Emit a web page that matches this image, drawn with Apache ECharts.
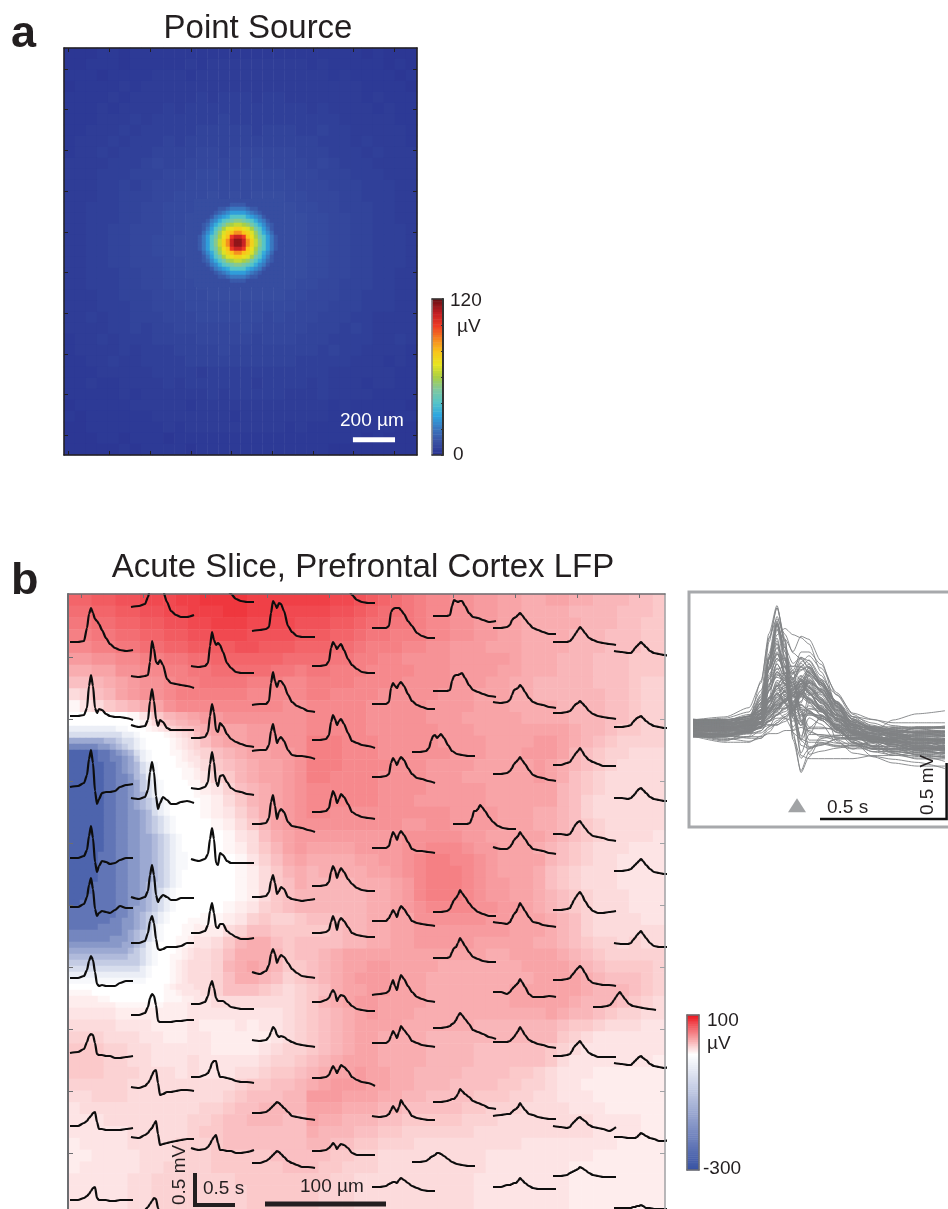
<!DOCTYPE html>
<html><head><meta charset="utf-8"><style>html,body{margin:0;padding:0;background:#fff}#c{width:948px;height:1209px}</style>
<script src="https://cdn.jsdelivr.net/npm/echarts@6/dist/echarts.min.js"></script></head>
<body><div id="c"></div>
<script>
// ---------- Panel a : background field, digit = µV ----------
const pointBackground = [
"11122122222222222222222222212111","11222122222323333333332322222121","22212222333233333333333323222212","12222323333333333333333333322221",
"22223233333343444344333333323222","22232333343444444444443433332322","22233343444444544444444443333322","22333434444455555455544544333332",
"23334344454555555555555444343332","23343444555566566666655544434333","33334445655666666766665654443333","33344455566677677777666555444333",
"33344545666777777777766655544433","33344555667778787888776665544433","33444556677788888888877665554433","33444556677888888888887766554433",
"33445566677888888888887766554443","33445566778888888888887766554443","33445566778888888888887766554443","33445566677888888888887766554443",
"33444556677888888888887766554433","33444556677788888888877665554433","33344555667778888888776665544433","33344455666777777777766655544433",
"33434455566677777767666555443333","33334454556666667666665554543333","23343444555566666566655544443343","23333434445555655555555454433332",
"22334334444555555555544444333232","22233333444434444444444433333322","22322333343444444344443433323322","22222323333334344444333433332222",
"12222233333233333333333323222221","21222222333333323333333322222122","11222222232333333333232222222211","11122122212222222222222222212111",
"11111212222122222222222211111111"];
// central spot, one character = 4 µV steps (0-9a-u)
const pointCore = [
"2222222222222222222222","2222222223333222222222","2222223345555433222222","2222234567777654322222",
"222235678aaaa876532222","2223568abcddcba8653222","223468acefggfeca864322","22357acfhijjihfca75322",
"22468behjkmmkjheb86422","2357acfikprrpkifca7532","2357adgjmrttrmjgda7532","2357adgjmrttrmjgda7532",
"2357acfikprrpkifca7532","22468behjkmmkjheb86422","22357acfhijjihfca75322","223468acefggfeca864322",
"2223568abcddcba8653222","222235678aaaa876532222","2222234567777654322222","2222223345555433222222",
"2222222223333222222222","2222222222222222222222"];
const pointTicksX = [23,223,423,623,823,1023,1223,1423,1623];
const pointTicksY = [103,303,503,703,903,1103,1303,1503,1703,1903];

// ---------- Panel b : LFP field, 0-9a-m = +4 µV steps, A-I = -30 µV steps, '-' = -12 µV ----------
const sliceField = [
"hhiijjkkkl"+"lmmmmlllll"+"llkkjihgfe"+"ddccbbaa99"+"aa99888776",
"gghhiijjkk"+"lllmmlllkk"+"kkjjihggfe"+"ddccbbaa99"+"9988887776",
"ffgghhiijj"+"kklllkkkkj"+"jjiihggffe"+"ddccbbaa99"+"9998887766",
"eeffgghhii"+"jjkkkjjjji"+"iihhgffeee"+"ddccbbaa99"+"9988877766",
"ddeeffgghh"+"iiiijjiiih"+"hhggfeeedd"+"ccbbbaaa99"+"9988877766",
"bbccddeeff"+"gghhhhhhgg"+"ggffeeddcc"+"ccbbbbba99"+"9888777666",
"99aaccddee"+"ffgggggffe"+"ffeeeddddc"+"ccbbbbaa99"+"9888777666",
"7789abccde"+"effffeeedd"+"eeeeddddcc"+"ccbbbaa998"+"8888777655",
"4578abccde"+"eeeeeddddd"+"eeddddcccc"+"cbbbaaa998"+"8888877655",
"1346789acd"+"ddddddddcc"+"dddddccccc"+"bbbbaaa999"+"9888877655",
".....13689"+"abbccccccc"+"dddddccccc"+"bbbaaaaa99"+"9988877655",
"BBBBAA.257"+"89aaabbccc"+"dddddccccc"+"cbbbaaaaaa"+"aa98876655",
"FFEECA.135"+"579aabbbcc"+"eeedddcccc"+"cbbbbaaaab"+"ba98765555",
"IIHHGDA.24"+"45789aabbc"+"eeedddcccc"+"ccbbbaaabb"+"ba87655444",
"IIIIHEB.13"+"346789aabc"+"eeeddddccc"+"bbbbaaaaab"+"a987654444",
"IIIIHFCA.2"+"235689aabc"+"eeddddcccc"+"bbbaaaaaab"+"a976544444",
"IIIIHGDB.1"+"1235789abc"+"ddddddcccc"+"bbbbbaaaaa"+"a876544444",
"IIIIHGEC.."+"1124689abc"+"ddddddcccb"+"bbbbbaaaaa"+"a875444444",
"IIIIHGFDA."+".123579abc"+"ddcccccccc"+"ccbbbbaaa9"+"9875444444",
"IIIIHGFDB."+"..12468abc"+"ccccccccbb"+"ccbbbbaaa9"+"9876544444",
"IIIIHGFEB."+"...13479ab"+"bbbbbbbbcc"+"cccbbaaaaa"+"9876544443",
"IIIIHGFEBA"+"...12468ab"+"aaaabbbbcc"+"dddcbbaaa9"+"8765444333",
"IIIIHGFEBA"+"....13579a"+"9999aabbcd"+"eeddcbaaaa"+"8765443333",
"IIIHHGFECA"+"....124689"+"89999aabcd"+"eeedcbaaa9"+"7654443333",
"IIHHHGFEBA"+"....124679"+"8888999abd"+"eeedcbbaa9"+"7654443333",
"IHHHHGFDBA"+"....124678"+"8888899abd"+"eeedcbbaa9"+"8765444333",
"HHHHHGECA."+"...1235678"+"8888899abc"+"ddddccbba9"+"8765444333",
"HHHGGFDA.."+"1112356556"+"7778899aac"+"cccccbbaaa"+"9875444433",
"GGGGFFDA.."+"2224577666"+"6678899aab"+"bbbbbbbaaa"+"9875444444",
"FFFFFECA.."+"3346899767"+"7778899aab"+"bbbbaaaaa9"+"9876554544",
"DDDDDCA..."+"4457999867"+"789aaaaaaa"+"aaaaa99aaa"+"a987655555",
"BBBBBAA..."+"44589a9866"+"789aabbaaa"+"a9999999aa"+"aa98766665",
"-----....."+"4457998756"+"789abbbaaa"+"999999999a"+"aaa9877765",
"1111......"+"3457776545"+"679aabbaaa"+"9999999aaa"+"aaa9888765",
"2222111122"+"3344444445"+"689abbaaaa"+"9999999aaa"+"aa98887654",
"3333222222"+"3333333345"+"6789abaaa9"+"9999999999"+"a988765544",
"4444333222"+"3222323345"+"6789aaaa99"+"9999888888"+"8766544433",
"5554443322"+"3322222345"+"6789aa9999"+"8888888888"+"8654333333",
"6665544333"+"3322223455"+"6789aa9999"+"8888777777"+"6543333333",
"6665544333"+"4333334556"+"789aaa9999"+"8888777777"+"6433333332",
"6665554443"+"4333445667"+"89aabaa998"+"8887777665"+"4333222222",
"5555544444"+"4444566778"+"9abbbaa998"+"8877776655"+"4332222222",
"4455544444"+"4445677788"+"bbbaaa9988"+"7777666554"+"4333222222",
"3444444444"+"4556778888"+"aaa9998877"+"7776655544"+"4433322222",
"3334444444"+"5567788877"+"a998887766"+"6665554444"+"4444333322",
"3333344444"+"5667777777"+"9888776655"+"5555444444"+"4444333322",
"2333344445"+"5567777777"+"8877665554"+"4444444433"+"3333332222",
"2233334445"+"5566666777"+"7766554444"+"4444433333"+"3333222222",
"2333334455"+"5566666677"+"7665554444"+"4444433333"+"3322222222",
"3333344555"+"5555666666"+"6655444444"+"4444333333"+"3322222222",
"3333344555"+"5555566666"+"6555444444"+"4444333333"+"3322222222",
"3333344555"+"5555566666"+"6555444444"+"4444333333"+"3322222222"];
// finer reading of the negative patch at the left edge
const slicePatch = [
"............1245678899","AAAAAAAA--...123456778","BBBBBBBBBAA-....123457","EEEEEEDDCBBA-....12345",
"GGGGGFFEDCBA-....12345","IIIIIHHGFEDBA-...11234","IIIIIHHGGFECA-....1233","IIIIIIHHGFEDBA-...1123",
"IIIIIIHHGFEDBA-....112","IIIIIIHHGGFDCA-....112","IIIIIIHHGGFECBA-....11","IIIIIIHHGGFECBA-.....1",
"IIIIIIHHGGFEDBA-.....1","IIIIIIHHGGFEDCBA-.....","IIIIIIHHGGFEDCBA-.....","IIIIIIHHGGFFEDBA-.....",
"IIIIIIHHGGFFEDCBA-....","IIIIIIHHGGFFEDCBA-....","IIIIIIHHGGFFEDCBA-....","IIIIIIHHGGFFEEDCBA-...",
"IIIIIIHHGGFFEEDCBA-...","IIIIIIHHGGFFEEDCBA-...","IIIIIHHHGGFFEEDCBA--..","IIIIIHHHGGFFEEDCBA--..",
"IIIIIHHHGGFFEEDCBA--..","IIIIIHHHGGFFEEDCBA-...","IIIIIHHHGGFFEEDCBA-...","IIIIHHHHGGFFEDCCBA-...",
"IIIIHHHHGGFFEDCBA-....","IIIHHHHHGGFFEDCBA-....","IIHHHHHHGGFFEDCBA-....","HHHHHHHHGGFEEDCBA-....",
"HHHHHHHHGGFEDCBA-.....","HHHHHHHGGFFEDCBA-...11","HHHHHGGGGFFEDCA-...112","GGGGGGGGGFEDCBA-...112",
"GGGGGGGFFFEDCBA-..1123","FFFFFFFFFEEDCA-...1123","EEEEEEEEEEDCBA-...1234","DDDDDDDDDDCCBA-..11234",
"CCCCCCCCCCCCBA-..12344","BBBBBBBBBBBBA-...12344","AAAAAAAAAAAAA-...12344","-------------....12344",
"................123334","1111............112333","2222211.........111223"];
const sliceTicksX = [13,75,137,199,261,323,385,447,509,571];
const sliceTicksLeft = [63,125,187,249,311,373,435,497,559];
const sliceTicksRight = [125,187,249,311,373,435,497,559];

// ---------- Traces ----------
const traceTime = [0,8,14,17,19,21,23,25,27,29,32,36,40,45,50,56,63];
const traceStartX = [
2,2,2,2,2,2,2,2,2,
63,63,63,63,63,63,63,63,63,63,
123,123,123,123,123,123,123,123,123,
184,184,184,184,184,184,184,184,184,
244,244,244,244,244,244,244,244,244,
304,304,304,304,304,304,304,304,304,
365,365,344,385,365,365,365,365,344,
425,425,425,425,425,425,425,425,425,
485,485,485,485,485,485,485,485,485,
546,546,546,546,546,525,546,546,546];
const traceStartY = [
48,122,193,264,313,384,459,532,606,
13,82,131,204,303,349,421,493,543,619,
-2,72,144,194,265,339,410,483,554,
37,111,157,230,303,378,446,519,569,
-2,72,146,218,292,339,408,484,557,
34,110,183,254,327,401,449,522,593,
22,97,158,230,318,364,434,508,568,
34,108,180,253,328,398,448,522,593,
48,119,171,240,316,386,462,532,582,
57,133,204,277,349,413,469,543,614];
const traceHeights = [
[0,0,1,14,28,34,29,23,21,18,12,4,-2,-6,-8,-9,-8],
[0,0,1,8,30,41,30,8,3,7,6,2,0,-1,-1,-2,-4],
[0,1,4,12,28,37,24,-4,-17,-12,-6,-5,-5,-4,0,2,3],
[0,0,2,8,22,32,20,-4,-14,-8,-3,-4,-6,-5,-2,0,0],
[0,0,3,10,22,29,18,-2,-9,-6,-4,-5,-6,-3,1,-1,-1],
[0,0,2,8,17,22,18,6,-6,-8,-7,-8,-8,-8,-5,-3,-3],
[0,1,4,11,17,19,18,10,-1,-2,-2,-3,-3,-5,-5,-4,-3],
[0,0,3,5,8,10,13,14,4,-3,-3,-4,-4,-4,-4,-3,-2],
[0,0,2,4,6,9,12,13,2,0,0,0,-1,-1,0,0,0],
[0,1,3,10,18,28,30,28,27,25,16,5,-4,-8,-10,-10,-8],
[0,-1,0,1,14,35,27,14,12,16,11,-3,-7,-8,-9,-10,-12],
[0,-2,-1,5,24,36,24,6,-1,5,3,-3,-5,-5,-5,-5,-5],
[0,-1,1,8,26,36,26,2,-11,-5,1,-2,-6,-6,-4,-3,-5],
[0,-2,0,6,22,32,22,2,-5,-1,2,0,-3,-3,-1,-1,-1],
[0,0,2,10,22,27,20,4,-6,-7,-6,-4,-4,-4,-3,0,0],
[0,0,2,8,17,21,19,10,-6,-7,-7,-7,-7,-6,-6,-5,-5],
[0,-1,1,4,7,12,16,17,4,-8,-7,-5,-5,-4,-3,-3,-4],
[0,-1,2,4,7,9,13,16,3,-8,-7,-6,-5,-4,-3,-2,-2],
[0,0,3,6,9,12,15,14,5,-2,-3,-3,-3,-3,-3,-3,-3],
[0,0,1,4,12,24,25,20,18,14,8,2,-2,-7,-9,-10,-10],
[0,-1,0,3,20,34,26,21,23,21,14,3,-2,-6,-7,-7,-7],
[0,0,1,6,22,34,26,8,6,15,12,4,-1,-4,-6,-8,-9],
[0,-1,1,6,24,36,26,6,2,12,13,6,0,-3,-4,-6,-7],
[0,-2,0,5,20,31,20,-4,-6,6,4,-2,-4,-4,-4,-4,-4],
[0,0,2,8,22,30,20,6,5,9,9,2,-1,-4,-6,-6,-5],
[0,0,2,8,18,23,16,6,3,3,3,0,-3,-4,-5,-5,-5],
[0,0,2,4,8,14,16,16,6,0,0,-1,-2,-4,-5,-5,-6],
[0,-2,-1,1,4,8,11,13,5,-2,-2,-3,-3,-5,-5,-4,-2],
[0,1,2,4,18,30,27,23,28,27,20,5,-1,-5,-6,-6,-6],
[0,1,1,4,22,33,24,18,24,24,20,10,3,-1,-3,-6,-7],
[0,1,1,6,20,27,18,8,12,14,10,1,-4,-5,-5,-6,-8],
[0,0,1,6,22,29,18,5,12,15,12,2,-2,-3,-4,-6,-8],
[0,0,1,5,16,22,14,3,6,10,8,0,-2,-3,-4,-3,-2],
[0,-2,1,7,18,23,18,9,14,17,15,9,3,-1,-4,-5,-6],
[0,-1,0,3,8,13,11,5,3,4,3,0,-2,-4,-5,-6,-7],
[0,0,1,3,5,7,9,11,10,8,5,1,-3,-4,-5,-6,-7],
[0,0,2,4,6,8,10,12,11,9,6,2,0,-2,-4,-4,-5],
[0,0,0,3,14,22,20,18,21,20,14,3,-3,-8,-10,-11,-11],
[0,0,1,5,18,24,21,17,20,22,16,7,1,-3,-6,-7,-7],
[0,0,1,5,18,25,21,15,19,21,16,7,-1,-3,-5,-6,-8],
[0,0,1,4,14,21,17,9,13,18,15,8,0,-3,-5,-6,-7],
[0,0,1,4,14,20,16,8,14,18,14,7,2,-2,-4,-5,-5],
[0,0,1,3,11,17,12,3,12,15,12,6,0,-2,-3,-4,-4],
[0,0,2,4,9,12,9,1,5,7,6,0,-4,-7,-8,-9,-9],
[0,0,1,3,8,12,9,5,9,13,11,7,1,-2,-4,-5,-8],
[0,0,1,3,5,8,6,2,5,7,6,3,-2,-4,-4,-4,-4],
[0,0,0,2,16,19,20,20,20,18,14,7,2,-5,-8,-10,-10],
[0,0,0,2,16,21,18,16,20,22,18,10,3,-1,-3,-5,-5],
[0,0,1,3,14,19,16,12,17,20,17,9,3,-1,-2,-4,-6],
[0,0,0,2,10,16,13,8,14,17,13,6,-1,-3,-3,-4,-5],
[0,0,0,3,7,11,8,4,11,15,12,6,0,-2,-3,-4,-5],
[0,1,2,4,10,15,9,5,14,20,16,9,3,-2,-4,-6,-7],
[0,0,0,2,7,12,9,5,11,17,13,8,2,0,-2,-3,-4],
[0,-1,0,2,6,10,7,4,9,16,11,6,0,-2,-3,-4,-4],
[0,0,1,3,4,5,5,4,7,9,7,4,1,-1,-3,-4,-4],
[0,0,0,1,10,16,15,14,15,15,10,3,-1,-2,-4,-6,-5],
[0,0,0,1,10,15,16,16,17,18,13,6,1,-1,-3,-5,-6],
[0,0,1,4,11,16,17,14,16,18,14,7,1,-2,-3,-4,-4],
[0,0,0,1,6,13,13,15,19,17,13,7,2,-2,-4,-5,-5],
[0,0,1,3,8,12,14,17,22,19,15,9,4,0,-2,-4,-4],
[0,0,0,1,6,10,11,15,20,17,12,6,1,-1,-3,-4,-4],
[0,0,1,2,4,5,8,12,15,13,9,4,-2,-4,-6,-9,-11],
[0,0,1,2,3,3,5,8,13,11,8,5,1,-1,-3,-6,-7],
[0,0,1,3,5,6,7,9,9,8,6,3,0,-2,-3,-4,-4],
[0,0,1,3,8,10,11,13,15,13,9,4,0,-2,-4,-6,-6],
[0,-1,0,2,7,12,13,14,17,15,10,4,0,-2,-3,-5,-6],
[0,0,1,3,6,10,12,14,17,14,10,4,-1,-3,-4,-6,-7],
[0,-2,-2,0,3,7,9,11,15,12,8,2,-2,-3,-4,-6,-7],
[0,-1,-2,0,4,8,10,14,19,16,11,5,0,-1,-3,-4,-5],
[0,0,-2,0,3,5,7,9,13,10,5,-2,-5,-5,-5,-4,-5],
[0,0,0,1,3,5,8,11,15,12,7,2,0,-2,-3,-5,-6],
[0,1,2,2,4,6,7,9,13,10,6,2,1,-1,-2,-3,-3],
[0,0,2,2,3,4,4,6,9,7,4,1,-1,-2,-2,-2,-2],
[0,0,0,1,3,6,9,12,15,13,9,4,2,0,-1,-2,-3],
[0,0,1,2,4,7,9,10,12,10,7,2,-1,-3,-4,-5,-6],
[0,0,2,3,6,9,12,14,17,14,9,5,3,1,-1,-1,-1],
[0,0,-1,0,3,7,10,12,13,10,6,1,-2,-3,-4,-6,-7],
[0,0,1,2,6,10,13,16,18,15,9,3,-1,-3,-3,-2,-1],
[0,0,1,2,5,7,10,12,14,12,7,0,-3,-4,-5,-5,-6],
[0,0,1,2,5,9,11,13,15,12,8,3,1,-1,-1,-1,-1],
[0,-1,-2,-1,2,4,6,8,9,7,5,1,-1,-2,-3,-5,-1],
[0,0,1,3,4,5,6,7,9,8,6,3,1,0,-1,-1,-1],
[0,-1,-2,-2,0,3,5,7,9,7,4,0,-2,-3,-4,-5,-5],
[0,0,1,2,5,7,9,10,11,9,6,3,1,0,-1,-1,-1],
[0,0,-1,0,2,4,7,9,10,8,5,1,-1,-2,-3,-3,-3],
[0,0,1,2,4,6,8,10,12,10,6,2,-1,-2,-3,-3,-3],
[0,-1,-1,0,3,5,8,10,12,9,5,0,-3,-4,-4,-4,-4],
[0,0,1,2,4,7,10,13,15,12,8,3,1,0,-1,-2,-3],
[0,-1,-2,-2,0,2,4,6,7,5,3,-1,-3,-4,-5,-4,-4],
[0,0,-1,-1,-1,-1,0,2,4,3,1,-1,-2,-4,-4,-3,-3],
[0,0,0,0,1,1,2,2,3,2,0,0,-1,-1,-1,-1,-1]];
// baseline of each trace in the overlay of panel b, inset
const insetBaseline = [
1.3,-2.1,2.6,0.2,-0.8,1.9,-2.6,0.9,-0.2,2.2,-1.1,-1.7,2.9,1.1,0.4,-2.9,1.6,-0.5,0.7,
-2.3,-0.1,2.1,-1.3,2.4,-2.8,1.2,0.3,-1.9,1.7,0.6,-0.9,0.1,2.7,-2.2,0.8,-2.5,-0.4,
1.8,-1.4,1.0,-0.3,-2.0,2.5,-0.7,1.5,-2.7,0.0,1.4,-1.6,2.3,0.5,-1.2,2.8,1.1,-1.8,
-0.6,1.9,-2.4,0.9,-1.0,2.6,0.2,-2.1,1.3,2.0,-1.5,-0.2,-2.6,0.7,1.6,-0.8,-1.7,2.4,
0.3,1.2,-1.1,2.2,-2.9,-0.5,1.0,-2.3,2.7,-1.3,0.1,1.8,-1.9,0.6,-0.9,0.4,2.1,-2.8];
const insetMarker = [[26,-25]];

// ---------- Scale bars (axis units) ----------
const sliceBarTime = [[127,579],[127,611],[167,611]];
const sliceBarLength = [[197,610],[318,610]];
const insetBarTime = [[31.75,-29.4],[63.4,-29.4],[63.4,-11.3]];
const pointBar = [[1420,1925],[1627,1925]];

// ---------- Colours ----------
const jetColors = ['#2a3492','#3a53a4','#3a78c0','#2ea6e0','#55c4c8','#7fc8a0','#a9cf45','#e8e520','#f9c41a','#f58420','#ee3a24','#c21f24','#701013'];
const slicePalette = ['#3953a4','#7b8cc2','#bdc6e1','#ffffff','#ed1c24'];

const ink='#231f20', font='"Liberation Sans",Arial,sans-serif';
const grids=[], xAxes=[], yAxes=[], series=[];
const addGrid=c=>{grids.push(Object.assign({outerBoundsMode:'none',containLabel:false},c));return grids.length-1};
const addX=c=>{xAxes.push(c);return xAxes.length-1}, addY=c=>{yAxes.push(c);return yAxes.length-1};
const range=n=>Array.from({length:n},(_,i)=>i);
const hiddenCat=(g,n,inv)=>({type:'category',gridIndex:g,data:range(n),show:false,inverse:!!inv,boundaryGap:true});
const tickAxis=(g,pos,min,max,ticks,color,width,inv,len)=>({type:'value',gridIndex:g,position:pos,min,max,inverse:!!inv,z:10,
  axisLine:{show:true,onZero:false,lineStyle:{color,width}},
  axisTick:{show:!!ticks,inside:true,length:len||4,customValues:ticks||undefined,lineStyle:{color,width:1}},
  axisLabel:{show:false},splitLine:{show:false}});
function decodeRows(rows,f){const d=[];rows.forEach((r,j)=>{for(let i=0;i<r.length;i++)d.push([i,j,f(r[i])])});return d}
const base36=c=>parseInt(c,36);
const sliceDecode=c=>c==='.'?0:c==='-'?-12:(c>='A'&&c<='I')?-30*(c.charCodeAt(0)-64):base36(c)*4;
const heat=(xi,yi,data,z)=>series.push({type:'heatmap',xAxisIndex:xi,yAxisIndex:yi,data,z,progressive:0,silent:true})-1;

// Panel a
const g0=addGrid({left:64,top:48,width:353,height:407});
const aCx=addX(hiddenCat(g0,32)),aCy=addY(hiddenCat(g0,37,true));
const aBx=addX(tickAxis(g0,'bottom',0,1735,pointTicksX,ink,1.5));
addX(tickAxis(g0,'top',0,1735,pointTicksX,ink,1.5));
const aLy=addY(tickAxis(g0,'left',0,2000,pointTicksY,ink,1.5,true));
addY(tickAxis(g0,'right',0,2000,pointTicksY,ink,1.5,true));
const idxA=[heat(aCx,aCy,decodeRows(pointBackground.map(r=>r.padEnd(32,'2')),base36),1)];
const g1=addGrid({left:194,top:199,width:88,height:88});
const coreX=addX(hiddenCat(g1,22)),coreY=addY(hiddenCat(g1,22,true));
idxA.push(heat(coreX,coreY,decodeRows(pointCore,c=>base36(c)*4),2));
series.push({type:'line',xAxisIndex:aBx,yAxisIndex:aLy,data:pointBar,symbol:'none',z:6,silent:true,lineStyle:{color:'#fff',width:5,cap:'butt'}});

// Panel a colour bar
const g2=addGrid({left:432,top:299,width:11,height:156});
const cbAx=addX(hiddenCat(g2,1)),cbAy=addY(hiddenCat(g2,61));
addY({type:'value',gridIndex:g2,position:'right',min:0,max:120,interval:20,z:10,
  axisLine:{show:true,onZero:false,lineStyle:{color:'#333',width:2}},
  axisTick:{show:true,inside:true,length:2,lineStyle:{color:'#333',width:1}},axisLabel:{show:false},splitLine:{show:false}});
addX(tickAxis(g2,'top',0,1,null,'#333',1.5));
addX(tickAxis(g2,'bottom',0,1,null,'#333',1.5));
addY(tickAxis(g2,'left',0,1,null,'#8a8c8e',1.5));
idxA.push(heat(cbAx,cbAy,range(61).map(i=>[0,i,i*2]),1));

// Panel b
const g3=addGrid({left:68,top:594,width:597,height:615});
const bCx=addX(hiddenCat(g3,50)),bCy=addY(hiddenCat(g3,52,true));
const bTx=addX(tickAxis(g3,'top',0,597,sliceTicksX,'#6d6e71',1.5));
const bLy=addY(tickAxis(g3,'left',0,615,sliceTicksLeft,'#6d6e71',2,true,5));
addY(tickAxis(g3,'right',0,615,sliceTicksRight,'#a0a2a5',1.5,true,5));
const idxB=[heat(bCx,bCy,decodeRows(sliceField,sliceDecode),1)];
const g4=addGrid({left:68,top:720,width:132,height:282});
const pX=addX(hiddenCat(g4,22)),pY=addY(hiddenCat(g4,47,true));
idxB.push(heat(pX,pY,decodeRows(slicePatch,sliceDecode),2));
traceHeights.forEach((h,k)=>{
  series.push({type:'line',xAxisIndex:bTx,yAxisIndex:bLy,symbol:'none',silent:true,clip:true,z:5,smooth:0.25,smoothMonotone:'x',
    lineStyle:{color:'#0d0d0d',width:2.2},
    data:h.map((v,i)=>[traceStartX[k]+traceTime[i],traceStartY[k]-v])});
});
const bar=(xi,yi,data,width,color)=>series.push({type:'line',xAxisIndex:xi,yAxisIndex:yi,data,symbol:'none',silent:true,z:7,lineStyle:{color:color||ink,width,cap:'butt',join:'miter'}});
bar(bTx,bLy,sliceBarTime,4);
bar(bTx,bLy,sliceBarLength,5);

// Panel b colour bar
const g5=addGrid({left:687,top:1015,width:12,height:155});
const cbBx=addX(hiddenCat(g5,1)),cbBy=addY(hiddenCat(g5,81));
addY({type:'value',gridIndex:g5,position:'right',min:-300,max:100,z:10,
  axisLine:{show:true,onZero:false,lineStyle:{color:'#6d6e71',width:1.5}},axisTick:{show:false},axisLabel:{show:false},splitLine:{show:false}});
addX(tickAxis(g5,'top',0,1,null,'#6d6e71',1.5));
addX(tickAxis(g5,'bottom',0,1,null,'#6d6e71',1.5));
addY(tickAxis(g5,'left',0,1,null,'#6d6e71',1.5));
idxB.push(heat(cbBx,cbBy,range(81).map(i=>[0,i,-300+i*5]),1));

// Inset
const g6=addGrid({left:689,top:592,width:300,height:235,show:true,borderColor:'#a7a9ac',borderWidth:3,backgroundColor:'transparent'});
const iX=addX({type:'value',gridIndex:g6,min:-1,max:74,show:false});
const iY=addY({type:'value',gridIndex:g6,min:-32,max:44,show:false});
traceHeights.forEach((h,k)=>{
  series.push({type:'line',xAxisIndex:iX,yAxisIndex:iY,symbol:'none',silent:true,z:3,smooth:0.25,smoothMonotone:'x',
    lineStyle:{color:'#808285',width:0.9},
    data:h.map((v,i)=>[traceTime[i],v+insetBaseline[k]])});
});
series.push({type:'scatter',xAxisIndex:iX,yAxisIndex:iY,data:insetMarker,symbol:'triangle',symbolSize:[18,14],silent:true,z:6,itemStyle:{color:'#8a8c8e'}});
bar(iX,iY,insetBarTime,2.5,'#111');

const txt=(x,y,t,size,extra)=>({type:'text',x,y,z:20,silent:true,rotation:(extra&&extra.rotation)||0,
  style:Object.assign({text:t,fill:ink,fontSize:size,fontFamily:font,textAlign:'left',textVerticalAlign:'middle'},extra&&extra.style)});

const chart=echarts.init(document.getElementById('c'),null,{renderer:'canvas',width:948,height:1209});
chart.setOption({
  animation:false,backgroundColor:'#fff',
  grid:grids,xAxis:xAxes,yAxis:yAxes,series,
  visualMap:[
    {type:'continuous',show:false,seriesIndex:idxA,min:0,max:120,inRange:{color:jetColors}},
    {type:'continuous',show:false,seriesIndex:idxB,min:-300,max:100,inRange:{color:slicePalette}}],
  title:[
    {text:'Point Source',left:253,top:7,textAlign:'center',textStyle:{fontSize:33,fontWeight:'normal',color:ink,fontFamily:font}},
    {text:'Acute Slice, Prefrontal Cortex LFP',left:358,top:546,textAlign:'center',textStyle:{fontSize:33,fontWeight:'normal',color:ink,fontFamily:font}}],
  graphic:[
    txt(11,35,'a',45,{style:{fontWeight:'bold'}}),
    txt(11,582,'b',45,{style:{fontWeight:'bold'}}),
    txt(340,421,'200 µm',19,{style:{fill:'#fff'}}),
    txt(450,301,'120',19),
    txt(457,327,'µV',19),
    txt(453,455,'0',19),
    txt(707,1021,'100',19),
    txt(707,1044,'µV',19),
    txt(703,1169,'-300',19),
    txt(203,1189,'0.5 s',19),
    txt(300,1187,'100 µm',19),
    txt(180,1205,'0.5 mV',19,{rotation:Math.PI/2}),
    txt(827,808,'0.5 s',19),
    txt(928,815,'0.5 mV',19,{rotation:Math.PI/2})
  ]
});
</script></body></html>
